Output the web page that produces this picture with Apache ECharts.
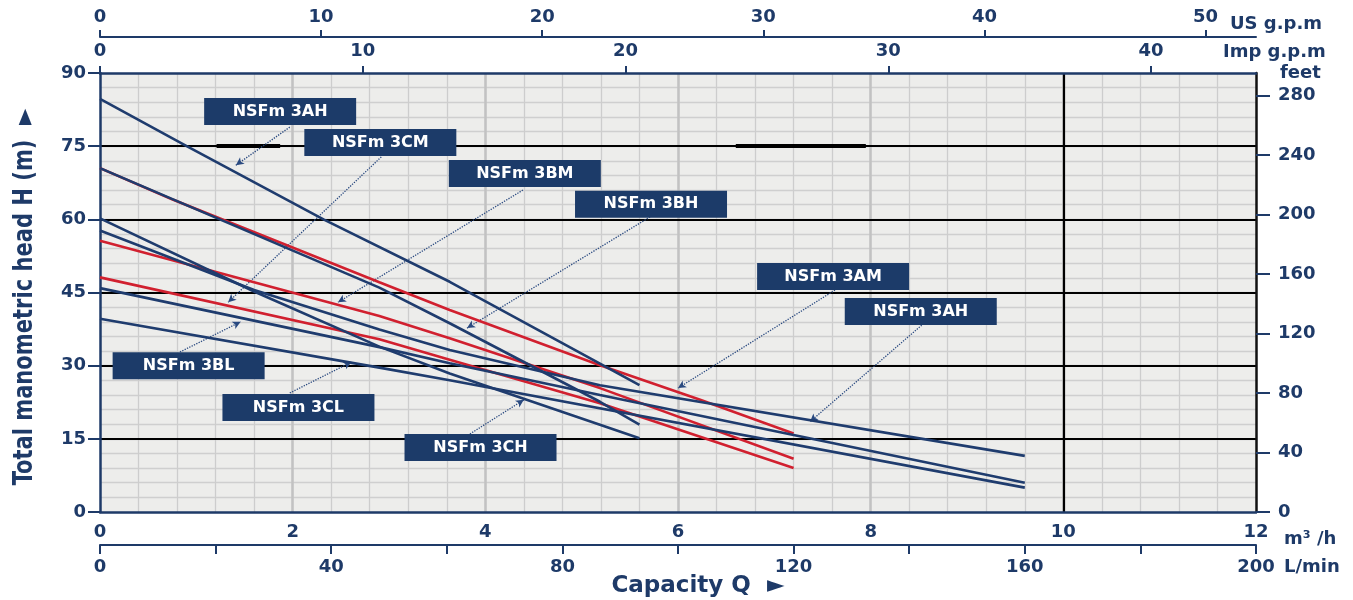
<!DOCTYPE html>
<html><head><meta charset="utf-8">
<script src="https://cdn.jsdelivr.net/npm/echarts@6/dist/echarts.min.js"></script>
<style>html,body{margin:0;padding:0;background:#fff}#c{width:1353px;height:600px}</style>
</head><body><div id="c"></div>
<script>
// ---- data (Q in m3/h, H in m) ----
const curve3AH  = [[0,84.7],[0.9,75],[2.32,60],[3.63,47.2],[5.19,30.4],[5.6,26.0]];
const curve3BH  = [[0,70.5],[2.9,46.0],[3.63,38.7],[5.19,22.6],[5.6,17.9]];
const curve3CH  = [[0,60.2],[1.6,45.2],[2.9,33.9],[3.63,28.4],[5.19,17.9],[5.6,15.1]];
const curve3AM  = [[0,70.5],[0.76,64.0],[2.9,47.1],[3.63,41.4],[5.19,30.1],[6.23,23.0],[7.2,16.1]];
const curve3BM  = [[0,55.6],[2.9,40.2],[3.63,35.6],[5.19,25.4],[7.2,10.9]];
const curve3CM  = [[0,48.1],[2.9,35.4],[3.63,31.2],[5.19,22.3],[7.2,9.0]];
const curve3AH2 = [[0,57.7],[1.6,45.5],[2.9,37.4],[3.63,33.2],[5.19,26.0],[9.6,11.5]];
const curve3BL  = [[0,45.9],[2.9,33.8],[3.63,30.5],[5.19,24.0],[9.6,6.0]];
const curve3CL  = [[0,39.6],[2.9,29.6],[3.63,27.0],[9.6,5.0]];

const blueCurves = [curve3AH, curve3BH, curve3CH, curve3AH2, curve3BL, curve3CL];
const redCurves = [curve3AM, curve3BM, curve3CM];

const labelNames = ['NSFm 3AH','NSFm 3CM','NSFm 3BM','NSFm 3BH','NSFm 3AM','NSFm 3AH','NSFm 3BL','NSFm 3CL','NSFm 3CH'];
const labelPos = [[1.87,82.1],[2.91,75.75],[4.41,69.4],[5.72,63.1],[7.61,48.3],[8.52,41.1],[0.92,30.0],[2.06,21.4],[3.95,13.2]];
const arrowFrom = [[1.97,78.9],[2.92,72.8],[4.39,66.0],[5.71,60.5],[7.63,45.5],[8.53,38.3],[0.83,32.8],[1.97,24.4],[3.84,16.0]];
const arrowTo   = [[1.41,71.1],[1.33,43.0],[2.47,43.0],[3.81,37.7],[6.0,25.4],[7.37,18.5],[1.46,39.0],[2.61,30.75],[4.40,23.0]];
// thick black pieces on the 75 m grid line (Q range)
const thick75 = [[1.21,1.87],[6.60,7.95]];

const usGpmTicks = [0,10,20,30,40,50];
const impGpmTicks = [0,10,20,30,40];
const feetTicks = [0,40,80,120,160,200,240,280];
const lminTicks = [0,20,40,60,80,100,120,140,160,180,200];
const lminLabels = [0,40,80,120,160,200];

// ---- style ----
const NAVY = '#1E3A68';
const BLUE = '#1F3C6E';
const RED = '#D1202F';
const FONT = "'DejaVu Sans', sans-serif";
const lbl = {color: NAVY, fontSize: 18, fontWeight: 'bold', fontFamily: FONT};

const chart = echarts.init(document.getElementById('c'), null, {renderer: 'canvas'});

const hidden = {axisLine:{show:false}, axisTick:{show:false}, axisLabel:{show:false}};

const series = [];
redCurves.concat(blueCurves).forEach((c, i) => {
  const isRed = i < redCurves.length;
  series.push({type:'line', xAxisIndex:0, yAxisIndex:0, data:c, showSymbol:false, symbol:'none',
    lineStyle:{color: isRed ? RED : BLUE, width: 2.6}, z: 10, silent:true});
});
// vertical black line at 10 m3/h + thick pieces on 75 m line
series.push({type:'line', xAxisIndex:0, yAxisIndex:0, data:[], z:6,
  markLine:{silent:true, symbol:['none','none'], label:{show:false},
    lineStyle:{color:'#000', width:2.2, type:'solid'},
    data:[{xAxis:10}].concat(thick75.map(r => [{coord:[r[0],75], lineStyle:{width:4}},{coord:[r[1],75]}]))}});
// annotation boxes + arrows
series.push({type:'scatter', xAxisIndex:0, yAxisIndex:0, z:20, silent:true,
  symbol:'rect', symbolSize:[152,27],
  itemStyle:{color:'#1C3B69', opacity:1},
  label:{show:true, position:'inside', formatter: p => p.name, color:'#fff', fontSize:16, fontWeight:'bold', fontFamily:FONT},
  data: labelPos.map((p,i) => ({value:p, name:labelNames[i]})),
  markLine:{silent:true, symbol:['none','arrow'], symbolSize:[6,8], label:{show:false},
    lineStyle:{color:'#2A4A80', width:1.3, type:'dotted'},
    data: arrowFrom.map((p,i) => [{coord:p},{coord:arrowTo[i]}])}
});

const option = {
  animation:false,
  backgroundColor:'#ffffff',
  grid:{left:100, right:97, top:73, bottom:88, show:true, backgroundColor:'#EDEDEB', borderWidth:0},
  xAxis:[
    {type:'value', position:'bottom', min:0, max:12, interval:2, z:5,
      axisLine:{show:true, onZero:false, lineStyle:{color:NAVY, width:2.5}},
      axisTick:{show:false}, splitLine:{show:false},
      axisLabel:Object.assign({margin:11}, lbl)},
    {type:'value', position:'bottom', offset:33, min:0, max:200, z:5,
      axisLine:{show:true, onZero:false, lineStyle:{color:NAVY, width:2}},
      axisTick:{show:true, length:9, customValues:lminTicks, lineStyle:{color:NAVY, width:2}},
      axisLabel:Object.assign({margin:13, customValues:lminLabels}, lbl), splitLine:{show:false}},
    {type:'value', position:'top', offset:36, min:0, max:52.28, z:5,
      axisLine:{show:true, onZero:false, lineStyle:{color:NAVY, width:2}},
      axisTick:{show:true, length:7, customValues:usGpmTicks, lineStyle:{color:NAVY, width:2}},
      axisLabel:Object.assign({margin:11, customValues:usGpmTicks}, lbl), splitLine:{show:false}},
    {type:'value', position:'top', offset:0, min:0, max:12/0.27277, z:5,
      axisLine:{show:true, onZero:false, lineStyle:{color:NAVY, width:2.5}},
      axisTick:{show:true, length:7, customValues:impGpmTicks, lineStyle:{color:NAVY, width:2}},
      axisLabel:Object.assign({margin:13, customValues:impGpmTicks}, lbl), splitLine:{show:false}},
    Object.assign({type:'value', min:0, max:12, interval:0.4, z:1,
      splitLine:{show:true, showMinLine:false, showMaxLine:false, lineStyle:{color:'#CDCDCD', width:1.3}}}, hidden),
    Object.assign({type:'value', min:0, max:12, interval:2, z:2,
      splitLine:{show:true, showMinLine:false, showMaxLine:false, lineStyle:{color:'#C2C2C2', width:2.5}}}, hidden)
  ],
  yAxis:[
    {type:'value', position:'left', min:0, max:90, interval:15, z:5,
      axisLine:{show:true, onZero:false, lineStyle:{color:NAVY, width:2.5}},
      axisTick:{show:true, length:12, lineStyle:{color:NAVY, width:2}},
      axisLabel:Object.assign({margin:14}, lbl),
      splitLine:{show:true, showMinLine:false, showMaxLine:false, lineStyle:{color:'#000', width:2.2}}},
    {type:'value', position:'right', min:0, max:90/0.3048, z:5,
      axisLine:{show:true, onZero:false, lineStyle:{color:'#111', width:2.5}},
      axisTick:{show:true, length:14, customValues:feetTicks, lineStyle:{color:NAVY, width:2}},
      axisLabel:Object.assign({margin:22, customValues:feetTicks}, lbl), splitLine:{show:false}},
    Object.assign({type:'value', min:0, max:90, interval:3, z:1,
      splitLine:{show:true, showMinLine:false, showMaxLine:false, lineStyle:{color:'#CFCFCF', width:1.3}}}, hidden)
  ],
  graphic:[
    {type:'text', x:25, y:297, rotation:Math.PI/2, scaleX:0.9, style:{text:'Total manometric head H (m)  \u25BA', fill:NAVY,
      font:"bold 26px 'Liberation Sans Narrow', 'DejaVu Sans Condensed', sans-serif", align:'center', verticalAlign:'middle'}},
    {type:'text', x:698, y:586, style:{text:'Capacity Q  \u25BA', fill:NAVY, font:"bold 23px 'DejaVu Sans', sans-serif", align:'center', verticalAlign:'middle'}},
    {type:'text', x:1284, y:539, style:{text:'m\u00B3 /h', fill:NAVY, font:"bold 18px 'DejaVu Sans', sans-serif", align:'left', verticalAlign:'middle'}},
    {type:'text', x:1284, y:567, style:{text:'L/min', fill:NAVY, font:"bold 18px 'DejaVu Sans', sans-serif", align:'left', verticalAlign:'middle'}},
    {type:'text', x:1230, y:24, style:{text:'US g.p.m', fill:NAVY, font:"bold 18px 'DejaVu Sans', sans-serif", align:'left', verticalAlign:'middle'}},
    {type:'text', x:1223, y:52, style:{text:'Imp g.p.m', fill:NAVY, font:"bold 18px 'DejaVu Sans', sans-serif", align:'left', verticalAlign:'middle'}},
    {type:'text', x:1280, y:73, style:{text:'feet', fill:NAVY, font:"bold 18px 'DejaVu Sans', sans-serif", align:'left', verticalAlign:'middle'}}
  ],
  series: series
};
chart.setOption(option);
</script></body></html>
